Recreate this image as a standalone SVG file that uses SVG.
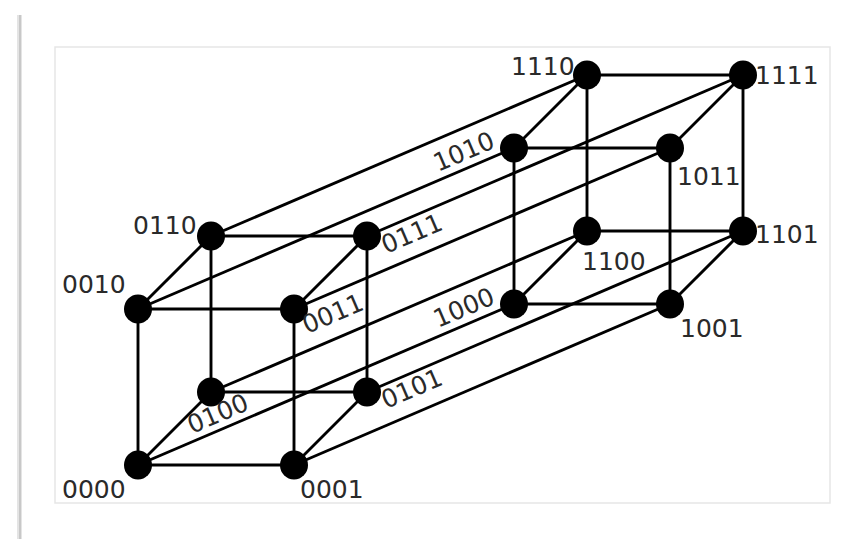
<svg xmlns="http://www.w3.org/2000/svg" width="845" height="539" viewBox="0 0 845 539">
<style>
.e{stroke:#000;stroke-width:2.9;fill:none}
.n{fill:#000}
.t{font-family:"DejaVu Sans",sans-serif;font-size:25px;fill:#2a2a2a}
</style>
<rect width="845" height="539" fill="#fff"/>
<rect x="17" y="15" width="5" height="524" fill="#e4e4e4"/>
<rect x="19" y="15" width="2" height="524" fill="#c8c8c8"/>
<rect x="55" y="47" width="775" height="456" fill="#fff" stroke="#e6e6e6" stroke-width="1.5"/>
<g id="connectors">
<line class="e" x1="138" y1="465" x2="294" y2="465"/>
<line class="e" x1="138" y1="465" x2="138" y2="309"/>
<line class="e" x1="138" y1="465" x2="211" y2="392"/>
<line class="e" x1="138" y1="465" x2="514" y2="304"/>
<line class="e" x1="294" y1="465" x2="294" y2="309"/>
<line class="e" x1="294" y1="465" x2="367" y2="392"/>
<line class="e" x1="294" y1="465" x2="670" y2="304"/>
<line class="e" x1="138" y1="309" x2="294" y2="309"/>
<line class="e" x1="138" y1="309" x2="211" y2="236"/>
<line class="e" x1="138" y1="309" x2="514" y2="148"/>
<line class="e" x1="294" y1="309" x2="367" y2="236"/>
<line class="e" x1="294" y1="309" x2="670" y2="148"/>
<line class="e" x1="211" y1="392" x2="367" y2="392"/>
<line class="e" x1="211" y1="392" x2="211" y2="236"/>
<line class="e" x1="211" y1="392" x2="587" y2="231"/>
<line class="e" x1="367" y1="392" x2="367" y2="236"/>
<line class="e" x1="367" y1="392" x2="743" y2="231"/>
<line class="e" x1="211" y1="236" x2="367" y2="236"/>
<line class="e" x1="211" y1="236" x2="587" y2="75"/>
<line class="e" x1="367" y1="236" x2="743" y2="75"/>
<line class="e" x1="514" y1="304" x2="670" y2="304"/>
<line class="e" x1="514" y1="304" x2="514" y2="148"/>
<line class="e" x1="514" y1="304" x2="587" y2="231"/>
<line class="e" x1="670" y1="304" x2="670" y2="148"/>
<line class="e" x1="670" y1="304" x2="743" y2="231"/>
<line class="e" x1="514" y1="148" x2="670" y2="148"/>
<line class="e" x1="514" y1="148" x2="587" y2="75"/>
<line class="e" x1="670" y1="148" x2="743" y2="75"/>
<line class="e" x1="587" y1="231" x2="743" y2="231"/>
<line class="e" x1="587" y1="231" x2="587" y2="75"/>
<line class="e" x1="743" y1="231" x2="743" y2="75"/>
<line class="e" x1="587" y1="75" x2="743" y2="75"/>
</g>
<g id="n0000"><ellipse class="n" cx="138" cy="465" rx="14" ry="14.5"/><text class="t" x="62" y="498">0000</text></g>
<g id="n0001"><ellipse class="n" cx="294" cy="465" rx="14" ry="14.5"/><text class="t" x="300" y="498">0001</text></g>
<g id="n0010"><ellipse class="n" cx="138" cy="309" rx="14" ry="14.5"/><text class="t" x="62" y="293">0010</text></g>
<g id="n0011"><ellipse class="n" cx="294" cy="309" rx="14" ry="14.5"/><text class="t" transform="translate(307,334) rotate(-23.2)">0011</text></g>
<g id="n0100"><ellipse class="n" cx="211" cy="392" rx="14" ry="14.5"/><text class="t" transform="translate(192,434) rotate(-23.2)">0100</text></g>
<g id="n0101"><ellipse class="n" cx="367" cy="392" rx="14" ry="14.5"/><text class="t" transform="translate(386,409) rotate(-23.2)">0101</text></g>
<g id="n0110"><ellipse class="n" cx="211" cy="236" rx="14" ry="14.5"/><text class="t" x="133" y="234">0110</text></g>
<g id="n0111"><ellipse class="n" cx="367" cy="236" rx="14" ry="14.5"/><text class="t" transform="translate(386,254) rotate(-23.2)">0111</text></g>
<g id="n1000"><ellipse class="n" cx="514" cy="304" rx="14" ry="14.5"/><text class="t" transform="translate(438,328) rotate(-23.2)">1000</text></g>
<g id="n1001"><ellipse class="n" cx="670" cy="304" rx="14" ry="14.5"/><text class="t" x="680" y="337">1001</text></g>
<g id="n1010"><ellipse class="n" cx="514" cy="148" rx="14" ry="14.5"/><text class="t" transform="translate(438,172) rotate(-23.2)">1010</text></g>
<g id="n1011"><ellipse class="n" cx="670" cy="148" rx="14" ry="14.5"/><text class="t" x="677" y="185">1011</text></g>
<g id="n1100"><ellipse class="n" cx="587" cy="231" rx="14" ry="14.5"/><text class="t" x="582" y="270">1100</text></g>
<g id="n1101"><ellipse class="n" cx="743" cy="231" rx="14" ry="14.5"/><text class="t" x="755" y="243">1101</text></g>
<g id="n1110"><ellipse class="n" cx="587" cy="75" rx="14" ry="14.5"/><text class="t" x="511" y="75">1110</text></g>
<g id="n1111"><ellipse class="n" cx="743" cy="75" rx="14" ry="14.5"/><text class="t" x="755" y="84">1111</text></g>
</svg>
